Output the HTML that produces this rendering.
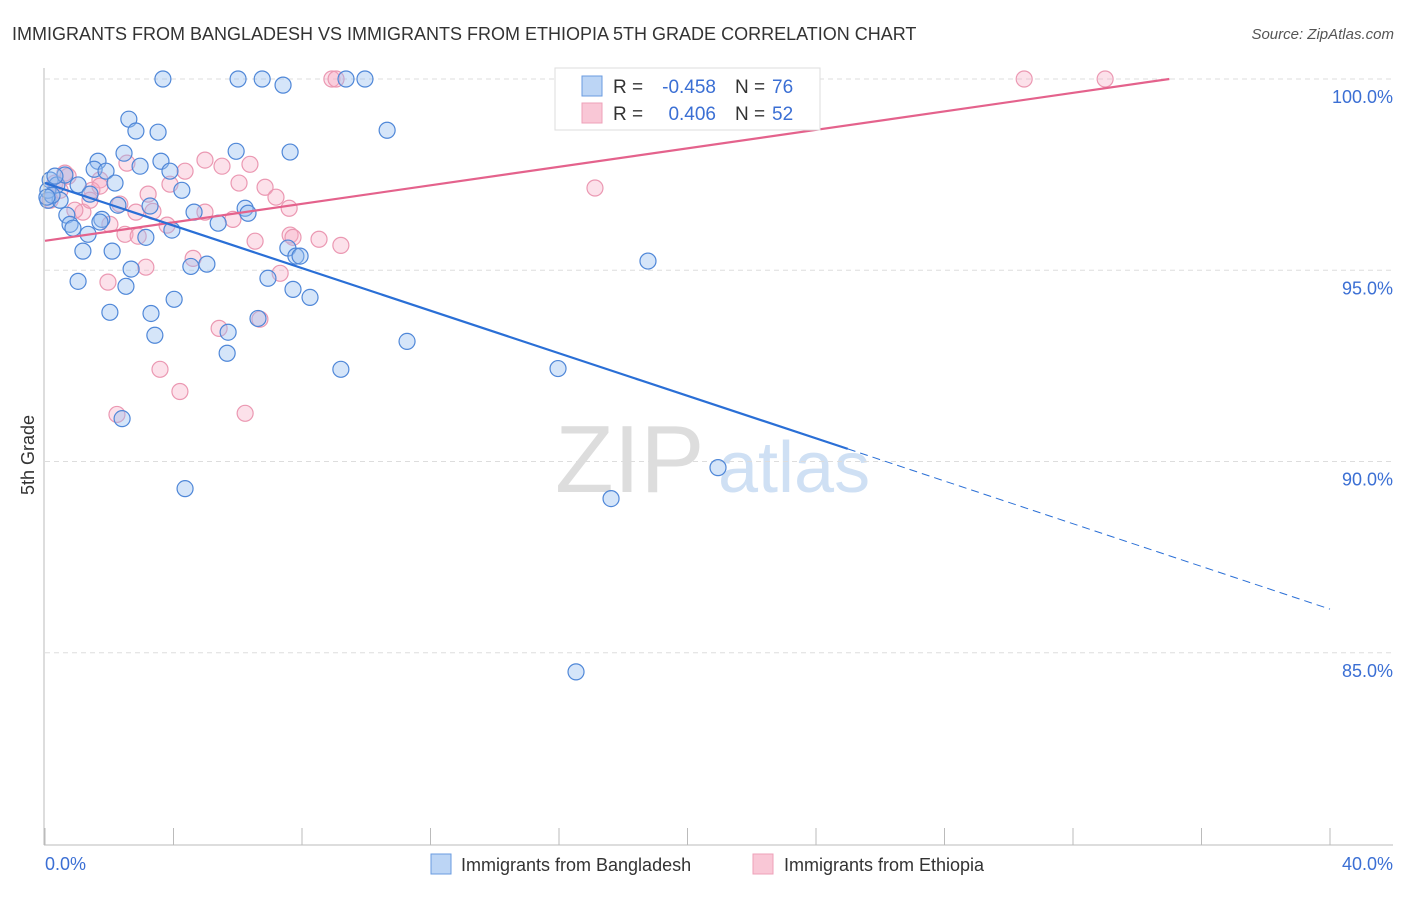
<!DOCTYPE html>
<html><head><meta charset="utf-8"><style>
body{margin:0;background:#fff;font-family:"Liberation Sans",sans-serif}
svg text{font-family:"Liberation Sans",sans-serif}
</style></head><body>
<svg id="c" width="1406" height="892">
<text x="12" y="40" font-size="18" fill="#333">IMMIGRANTS FROM BANGLADESH VS IMMIGRANTS FROM ETHIOPIA 5TH GRADE CORRELATION CHART</text>
<text x="1394" y="39" font-size="15" fill="#555" font-style="italic" text-anchor="end">Source: ZipAtlas.com</text>
<text x="34" y="455" font-size="18" fill="#333" transform="rotate(-90 34 455)" text-anchor="middle">5th Grade</text>
<g><text x="555" y="492" font-size="96" fill="#ddd" font-family="Liberation Serif">ZIP</text><text x="718" y="492" font-size="72" fill="#cfe0f4">atlas</text></g>
<g id="grid"></g><g id="pts"></g><g id="lines"></g>
<line x1="44" y1="68" x2="44" y2="845" stroke="#bbb"/>
<line x1="44" y1="845" x2="1393" y2="845" stroke="#bbb"/>
<text x="45" y="870" font-size="18" fill="#3b6fd4">0.0%</text>
<text x="1393" y="870" font-size="18" fill="#3b6fd4" text-anchor="end">40.0%</text>
<g>
<rect x="555" y="68" width="265" height="62" fill="#fff" stroke="#ddd"/>
<rect x="582" y="76" width="20" height="20" fill="#bcd5f5" stroke="#6a9be0"/>
<rect x="582" y="103" width="20" height="20" fill="#f9c7d6" stroke="#eea0b8"/>
<text x="613" y="93" font-size="19" fill="#333">R =</text>
<text x="716" y="93" font-size="19" fill="#3b6fd4" text-anchor="end">-0.458</text>
<text x="735" y="93" font-size="19" fill="#333">N =</text>
<text x="772" y="93" font-size="19" fill="#3b6fd4">76</text>
<text x="613" y="120" font-size="19" fill="#333">R =</text>
<text x="716" y="120" font-size="19" fill="#3b6fd4" text-anchor="end">0.406</text>
<text x="735" y="120" font-size="19" fill="#333">N =</text>
<text x="772" y="120" font-size="19" fill="#3b6fd4">52</text>
</g>
<g>
<rect x="431" y="854" width="20" height="20" fill="#bcd5f5" stroke="#6a9be0"/>
<text x="461" y="871" font-size="18" fill="#333">Immigrants from Bangladesh</text>
<rect x="753" y="854" width="20" height="20" fill="#f9c7d6" stroke="#eea0b8"/>
<text x="784" y="871" font-size="18" fill="#333">Immigrants from Ethiopia</text>
</g>
</svg>
<script>
const yTicks=[100,95,90,85];
const yTickLabels=["100.0%","95.0%","90.0%","85.0%"];
const xTicks=[0,4,8,12,16,20,24,28,32,36,40];
const blueX=[3.67,6.01,6.76,7.41,9.37,9.96,2.61,2.83,3.52,10.65,2.46,5.95,7.63,1.65,3.61,1.53,1.90,2.96,3.89,2.18,0.16,0.37,1.03,4.26,1.40,0.09,0.47,2.27,3.27,6.23,4.64,6.32,0.68,1.77,1.71,0.78,0.87,1.34,3.14,3.95,5.39,1.18,2.09,7.56,7.81,7.94,5.04,2.68,4.54,18.77,1.03,6.94,2.52,7.72,8.25,4.02,2.02,3.30,3.42,5.70,6.63,11.27,5.67,9.21,15.97,2.40,4.36,20.95,17.62,16.53,0.09,0.22,0.62,0.31,0.06];
const blueY=[100,100,100,99.84,100,100,98.95,98.64,98.61,98.66,98.06,98.11,98.09,97.85,97.85,97.64,97.59,97.72,97.59,97.28,97.36,97.23,97.23,97.09,96.99,96.83,96.83,96.70,96.68,96.62,96.52,96.49,96.44,96.33,96.26,96.20,96.10,95.94,95.86,96.05,96.23,95.50,95.50,95.58,95.37,95.37,95.16,95.03,95.10,95.24,94.71,94.79,94.58,94.50,94.29,94.24,93.90,93.87,93.30,93.38,93.74,93.14,92.83,92.41,92.43,91.12,89.29,89.84,89.03,84.50,97.09,96.96,97.49,97.46,96.91];
const pinkX=[8.93,9.06,23.25,30.48,33.00,0.62,0.72,1.71,1.46,2.55,4.36,4.98,5.51,6.38,6.04,3.89,3.21,6.85,7.19,7.60,1.18,2.33,3.36,2.83,2.02,2.49,3.80,7.63,7.72,8.53,9.21,6.54,5.85,2.90,4.98,17.12,4.61,3.14,1.96,7.32,5.42,6.69,3.58,4.20,2.24,6.23,0.31,0.47,0.16,0.93,1.71,1.40];
const pinkY=[100,100,100,100,100,97.54,97.46,97.36,97.09,97.80,97.59,97.88,97.72,97.77,97.28,97.25,96.99,97.17,96.91,96.62,96.52,96.73,96.54,96.52,96.20,95.94,96.18,95.92,95.86,95.81,95.65,95.76,96.33,95.89,96.52,97.15,95.31,95.08,94.69,94.92,93.48,93.72,92.41,91.83,91.23,91.26,97.28,97.09,96.83,96.57,97.20,96.83];
const pinkTrend=[[0,95.77],[35.0,100]];
const blueTrend=[[0,97.28],[24.99,90.33]];
const blueDash=[[24.99,90.33],[40,86.14]];
const NS="http://www.w3.org/2000/svg";
const sx=v=>45+v*(1285/40);
const sy=v=>79+(100-v)*38.25;
function mk(tag,attrs,parent){const e=document.createElementNS(NS,tag);for(const k in attrs)e.setAttribute(k,attrs[k]);parent.appendChild(e);return e;}
const grid=document.getElementById('grid');
yTicks.forEach((t,i)=>{
 const l=mk('line',{x1:45,x2:1393,y1:sy(t),y2:sy(t),stroke:'#ddd','stroke-dasharray':'5,4'},grid);
 
 
 const tx=mk('text',{x:1393,y:sy(t)+24,'font-size':18,fill:'#3b6fd4','text-anchor':'end'},grid);
 tx.textContent=yTickLabels[i];
 
 
});
xTicks.forEach(t=>{
 const l=mk('line',{x1:sx(t),x2:sx(t),y1:828,y2:845,stroke:'#bbb'},grid);
 
 
});
const pts=document.getElementById('pts');
pinkX.forEach((x,i)=>{
 const c=mk('circle',{cx:sx(x),cy:sy(pinkY[i]),r:8,fill:'rgba(245,170,195,0.35)',stroke:'#eb98b2','stroke-width':1.2},pts);
 
 
});
blueX.forEach((x,i)=>{
 const c=mk('circle',{cx:sx(x),cy:sy(blueY[i]),r:8,fill:'rgba(150,190,240,0.4)',stroke:'#4f87d8','stroke-width':1.2},pts);
 
 
});
const lines=document.getElementById('lines');
const pl=mk('line',{x1:sx(pinkTrend[0][0]),y1:sy(pinkTrend[0][1]),x2:sx(pinkTrend[1][0]),y2:sy(pinkTrend[1][1]),stroke:'#e4628c','stroke-width':2.2},lines);


const bl=mk('line',{x1:sx(blueTrend[0][0]),y1:sy(blueTrend[0][1]),x2:sx(blueTrend[1][0]),y2:sy(blueTrend[1][1]),stroke:'#2a6fd6','stroke-width':2.2},lines);


const bd=mk('line',{x1:sx(blueDash[0][0]),y1:sy(blueDash[0][1]),x2:sx(blueDash[1][0]),y2:sy(blueDash[1][1]),stroke:'#2a6fd6','stroke-width':1,'stroke-dasharray':'8,5'},lines);


</script>
</body></html>
